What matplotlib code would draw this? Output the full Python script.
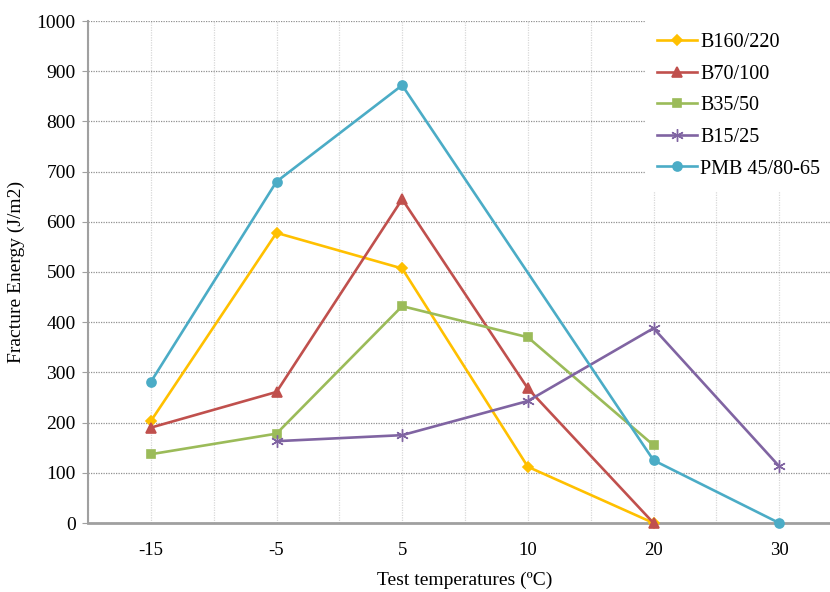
import numpy as np
import matplotlib
matplotlib.use('Agg')
import matplotlib.pyplot as plt
from matplotlib.ticker import MultipleLocator

plt.rcParams['font.family'] = ['Liberation Serif', 'DejaVu Serif']

# Test temperatures (categories) and fracture energy values (J/m2)
temps = ['-15', '-5', '5', '10', '20', '30']
b160 = [203, 578, 507, 112, 0, None]
b70 = [190, 261, 645, 268, 0, None]
b35 = [137, 178, 432, 370, 155, None]
b15 = [None, 163, 175, 243, 388, 113]
pmb = [281, 680, 872, None, 125, 0]

series = [
    ('B160/220', b160, '#FFC000', 'D', 5),
    ('B70/100', b70, '#C0504D', '^', 7),
    ('B35/50', b35, '#9BBB59', 's', 6),
    ('B15/25', b15, '#8064A2', (6, 2, 0), 9),
    ('PMB 45/80-65', pmb, '#4BACC6', 'o', 6.5),
]

fig = plt.figure(figsize=(8.3, 5.92), dpi=100)
ax = fig.add_axes([88 / 830, 69 / 592, 754 / 830, 502 / 592])

x = np.arange(len(temps))
for name, vals, col, mk, ms in series:
    xs = [xi for xi, v in zip(x, vals) if v is not None]
    ys = [v for v in vals if v is not None]
    ax.plot(xs, ys, color=col, lw=1.9, marker=mk, markersize=ms,
            markeredgewidth=1.2 if mk != (6, 2, 0) else 1.0,
            label=name, clip_on=False, zorder=3)

ax.set_xlim(-0.5, 5.5)
ax.set_ylim(0, 1000)
ax.set_xticks(x)
ax.set_xticklabels(temps)
ax.xaxis.set_minor_locator(MultipleLocator(0.5))
ax.yaxis.set_major_locator(MultipleLocator(100))

ax.grid(axis='y', which='major', color='#909090', linestyle=(0, (1, 1)), lw=0.9)
ax.grid(axis='x', which='both', color='#d8d8d8', linestyle=(0, (1, 1)), lw=0.9)
ax.set_axisbelow(True)

for s in ['top', 'right']:
    ax.spines[s].set_visible(False)
ax.spines['left'].set_color('#a0a0a0')
ax.spines['left'].set_linewidth(1.5)
ax.spines['bottom'].set_color('#a0a0a0')
ax.spines['bottom'].set_linewidth(2)

ax.tick_params(axis='y', length=4, color='#a0a0a0', labelsize=14, pad=5)
ax.tick_params(axis='x', which='both', length=0, labelsize=13.5, pad=14)

ax.set_xlabel('Test temperatures (ºC)', fontsize=14, labelpad=9)
ax.set_ylabel('Fracture Energy (J/m2)', fontsize=14, labelpad=8)

leg = ax.legend(loc='upper left', bbox_to_anchor=(557 / 754, 1.0), frameon=True,
                fontsize=14.5, handlelength=2.0, labelspacing=0.62,
                borderpad=0.6, handletextpad=0.15, borderaxespad=0)
leg.get_frame().set_edgecolor('none')
leg.get_frame().set_facecolor('white')
leg.get_frame().set_alpha(1)
leg.get_frame().set_boxstyle('square', pad=0)

fig.savefig('out.png', dpi=100)
